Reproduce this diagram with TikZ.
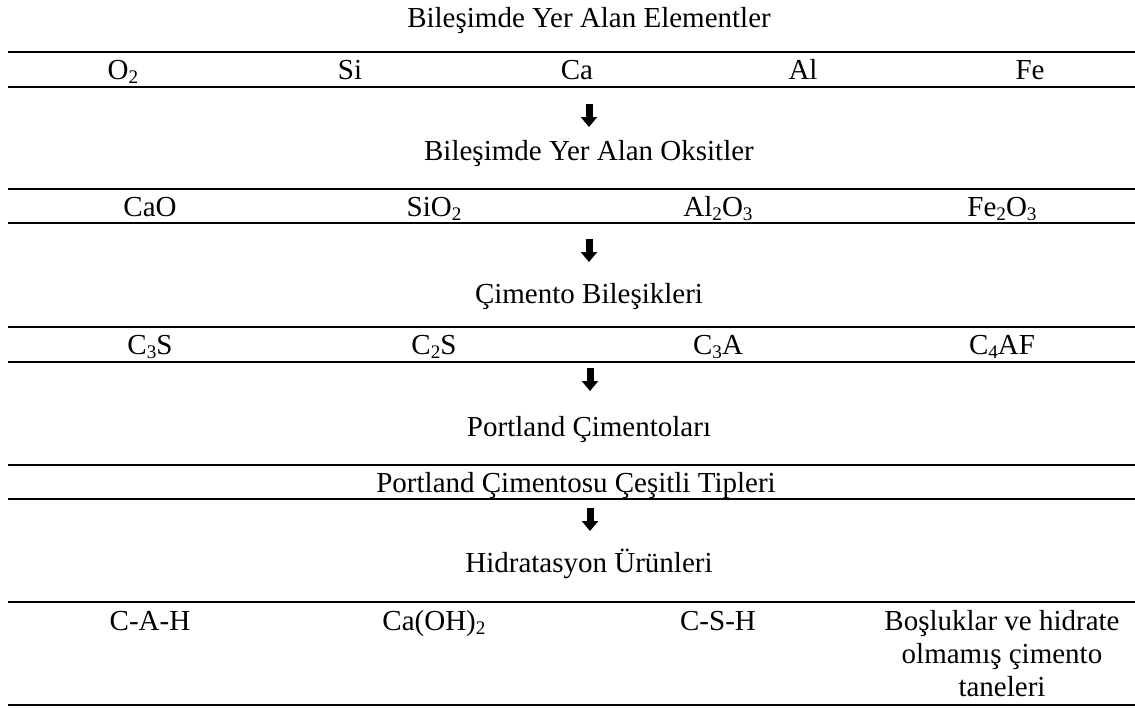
\documentclass[tikz,border=0pt]{standalone}
\usepackage{fontspec}
\setmainfont{Liberation Serif}
\usetikzlibrary{arrows.meta}
\newcommand\sbscr[1]{\raisebox{-2.2pt}{\fontsize{9.6}{10}\selectfont #1}}
\begin{document}
\begin{tikzpicture}[x=0.5pt,y=-0.5pt,
  lbl/.style={inner sep=0pt,anchor=base,font=\fontsize{14.5}{16.5}\selectfont},
  rule/.style={line width=1.4pt},
  bigarrow/.style={line width=3.5pt,-{Triangle[width=8pt,length=5pt]}}]
\useasboundingbox (0,0) rectangle (1135,707);
% rules
\foreach \y in {52,87,189,223,327,362,465,499,602,705}
  \draw[rule] (8,\y) -- (1135,\y);
% titles
\node[lbl] (t1) at (589,27) {Bileşimde Yer Alan Elementler};
\node[lbl] (t2) at (589,160) {Bileşimde Yer Alan Oksitler};
\node[lbl] (t3) at (589,303) {Çimento Bileşikleri};
\node[lbl] (t4) at (589,436) {Portland Çimentoları};
\node[lbl] (t5) at (589,572) {Hidratasyon Ürünleri};
% row 1
\node[lbl] (e1) at (123,79) {O\sbscr{2}};
\node[lbl] (e2) at (350,79) {Si};
\node[lbl] (e3) at (577,79) {Ca};
\node[lbl] (e4) at (803,79) {Al};
\node[lbl] (e5) at (1030,79) {Fe};
% row 2
\node[lbl] (o1) at (150,216) {CaO};
\node[lbl] (o2) at (434,216) {SiO\sbscr{2}};
\node[lbl] (o3) at (718,216) {Al\sbscr{2}O\sbscr{3}};
\node[lbl] (o4) at (1002,216) {Fe\sbscr{2}O\sbscr{3}};
% row 3
\node[lbl] (c1) at (150,354) {C\sbscr{3}S};
\node[lbl] (c2) at (434,354) {C\sbscr{2}S};
\node[lbl] (c3) at (718,354) {C\sbscr{3}A};
\node[lbl] (c4) at (1002,354) {C\sbscr{4}AF};
% row 4
\node[lbl] (p1) at (576,492) {Portland Çimentosu Çeşitli Tipleri};
% row 5
\node[lbl] (h1) at (150,630) {C-A-H};
\node[lbl] (h2) at (434,630) {Ca(OH)\sbscr{2}};
\node[lbl] (h3) at (718,630) {C-S-H};
\node[lbl,align=center] (h4) at (1002,696) {Boşluklar ve hidrate\\olmamış çimento\\taneleri};
% arrows
\coordinate (a1s) at (589,104); \coordinate (a1e) at (589,127);
\coordinate (a2s) at (589,239); \coordinate (a2e) at (589,262);
\coordinate (a3s) at (590,368); \coordinate (a3e) at (590,391);
\coordinate (a4s) at (590,508); \coordinate (a4e) at (590,531);
\draw[bigarrow] (a1s) -- (a1e);
\draw[bigarrow] (a2s) -- (a2e);
\draw[bigarrow] (a3s) -- (a3e);
\draw[bigarrow] (a4s) -- (a4e);
\end{tikzpicture}
\end{document}
